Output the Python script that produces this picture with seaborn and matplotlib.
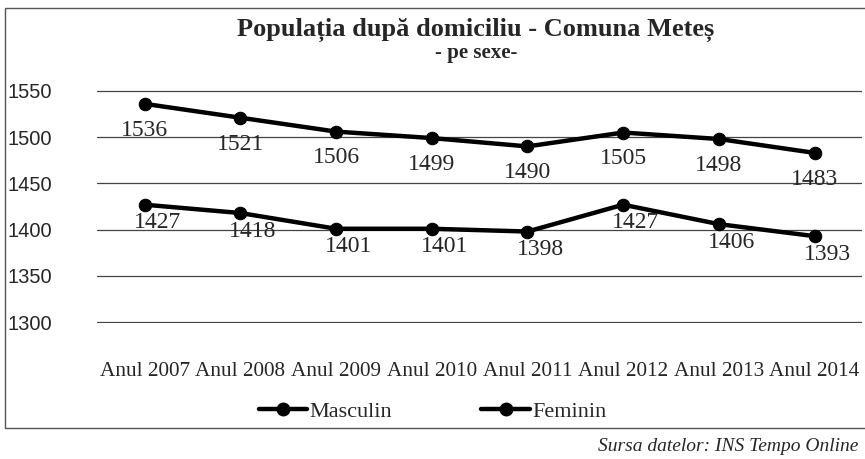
import pandas as pd
import numpy as np
import matplotlib.pyplot as plt
import matplotlib.patches as patches
import seaborn as sns

years = ['Anul 2007', 'Anul 2008', 'Anul 2009', 'Anul 2010',
         'Anul 2011', 'Anul 2012', 'Anul 2013', 'Anul 2014']
masculin = [1536, 1521, 1506, 1499, 1490, 1505, 1498, 1483]
feminin = [1427, 1418, 1401, 1401, 1398, 1427, 1406, 1393]
series_names = ['Masculin', 'Feminin']

sns.set_style('white')
plt.rcParams['font.family'] = ['Liberation Serif', 'DejaVu Serif']

# long format for seaborn
df = pd.DataFrame({
    'an': years * 2,
    'pop': masculin + feminin,
    'sex': [series_names[0]] * len(years) + [series_names[1]] * len(years),
})

fig = plt.figure(figsize=(8.65, 4.59), dpi=100)
ax = fig.add_axes([0.112, 0.296, 0.885, 0.508])

sns.lineplot(data=df, x='an', y='pop', hue='sex', palette=['black', 'black'],
             marker='o', markersize=9, linewidth=3.2, markeredgecolor='black',
             sort=False, ax=ax, legend=False)

ax.set_xlim(-0.5, len(years) - 0.5)
ax.set_ylim(1299, 1551)
ax.set_yticks(np.arange(1300, 1551, 50))
ax.grid(axis='y', color='#444444', linewidth=0.9)
ax.grid(axis='x', visible=False)
for s in ax.spines.values():
    s.set_visible(False)
ax.set_xlabel('')
ax.set_ylabel('')
ax.tick_params(axis='both', length=0)
ax.tick_params(axis='x', pad=28)
ax.tick_params(axis='y', pad=64)
for lab in ax.get_yticklabels():
    lab.set_fontfamily('Liberation Sans')
    lab.set_fontsize(14.5)
    lab.set_horizontalalignment('left')
for lab in ax.get_xticklabels():
    lab.set_fontsize(15.3)

# data labels under the points
offsets = {'Masculin': (0, -19), 'Feminin': (9, -13)}
for name, vals in zip(series_names, [masculin, feminin]):
    for i, v in enumerate(vals):
        ax.annotate(str(v), (i, v), xytext=offsets[name], textcoords='offset points',
                    ha='center', va='center', fontsize=17)

fig.text(0.55, 0.935, 'Populația după domiciliu - Comuna Meteș', ha='center', va='center',
         fontsize=19, fontweight='bold')
fig.text(0.55, 0.885, '- pe sexe-', ha='center', va='center', fontsize=15, fontweight='bold')

handles = [plt.Line2D([], [], color='black', marker='o', markersize=9, linewidth=3.2)
           for _ in series_names]
fig.legend(handles, series_names, loc='center', bbox_to_anchor=(0.5, 0.103), ncol=2,
           frameon=False, fontsize=16, handlelength=2.2, handletextpad=0.1, columnspacing=4)

fig.text(0.992, 0.027, 'Sursa datelor: INS Tempo Online', ha='right', va='center',
         fontsize=14, style='italic')

# scanned frame around the chart
fig.add_artist(patches.Rectangle((0.006, 0.068), 1.1, 0.915, transform=fig.transFigure,
                                 fill=False, edgecolor='#555555', linewidth=1))

fig.savefig('out.png', dpi=100)
